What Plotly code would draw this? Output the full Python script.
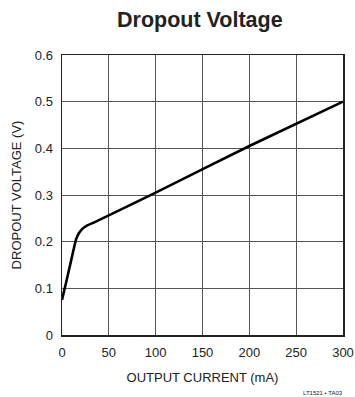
import plotly.graph_objects as go

current_ma = [0, 5, 10, 15, 18, 22, 27, 35, 100, 200, 300]
dropout_v = [0.075, 0.118, 0.162, 0.205, 0.218, 0.228, 0.235, 0.242, 0.305, 0.405, 0.5]
x_ticks = [0, 50, 100, 150, 200, 250, 300]
y_ticks = [0, 0.1, 0.2, 0.3, 0.4, 0.5, 0.6]
y_labels = ["0", "0.1", "0.2", "0.3", "0.4", "0.5", "0.6"]

font_fam = "Liberation Sans Narrow, Arial Narrow, Liberation Sans, Arial, sans-serif"

fig = go.Figure()
fig.add_trace(go.Scatter(x=current_ma, y=dropout_v, mode="lines",
                         line=dict(color="black", width=2.6, shape="spline", smoothing=0.4),
                         hoverinfo="skip"))

fig.update_layout(
    width=355, height=397,
    margin=dict(l=62, r=12, t=55, b=62),
    paper_bgcolor="white", plot_bgcolor="white",
    showlegend=False,
    font=dict(family=font_fam, color="#222", size=12),
    title=dict(text="<b>Dropout Voltage</b>", x=0.563, xanchor="center", y=0.952, yanchor="middle",
               font=dict(size=21.5, family=font_fam, color="#222")),
    xaxis=dict(range=[0, 300], tickvals=x_ticks, ticktext=[str(v) for v in x_ticks],
               showgrid=True, gridcolor="#555", gridwidth=1, zeroline=False,
               showline=True, linecolor="#222", linewidth=1.5, mirror=True,
               ticks="", ticklabelstandoff=5, automargin=False,
               tickfont=dict(size=13),
               title=dict(text="OUTPUT CURRENT (mA)", standoff=14, font=dict(size=13))),
    yaxis=dict(range=[0, 0.6], tickvals=y_ticks, ticktext=y_labels,
               showgrid=True, gridcolor="#555", gridwidth=1, zeroline=False,
               showline=True, linecolor="#222", linewidth=1.5, mirror=True,
               ticks="", ticklabelstandoff=5, automargin=False,
               tickfont=dict(size=13),
               title=dict(text="DROPOUT VOLTAGE (V)", standoff=10, font=dict(size=13))),
)
fig.add_annotation(text="LT1521 • TA03", xref="paper", yref="paper", x=1.007, y=-0.207,
                   xanchor="right", yanchor="middle", showarrow=False,
                   font=dict(size=6, family=font_fam, color="#222"))
fig.write_html("out.html", config={"displayModeBar": False, "staticPlot": True},
               post_script="document.body.style.margin='0';document.body.style.overflow='hidden';")
